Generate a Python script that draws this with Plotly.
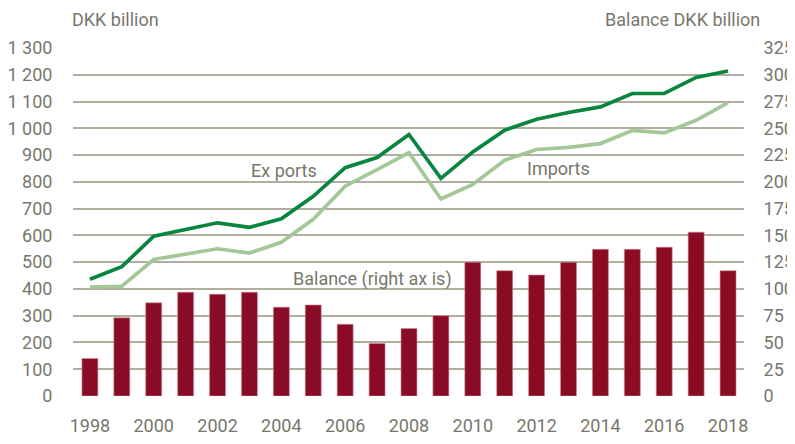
import plotly.graph_objects as go

years = list(range(1998, 2019))
exports = [436, 483, 597, 622, 647, 630, 662, 746, 853, 891, 977, 813,
           912, 993, 1034, 1059, 1080, 1130, 1130, 1190, 1214]
imports = [407, 410, 510, 529, 550, 534, 574, 660, 784, 846, 909, 736,
           790, 881, 921, 929, 943, 992, 983, 1030, 1096]
balance = [35, 73, 87, 97, 95, 97, 83, 85, 67, 49, 63, 75,
           125, 117, 113, 125, 137, 137, 139, 153, 117]

left_ticks = list(range(0, 1301, 100))
left_text = ["0", "100", "200", "300", "400", "500", "600", "700", "800", "900",
             "1 000", "1 100", "1 200", "1 300"]
right_ticks = list(range(0, 326, 25))
right_text = [str(v) for v in right_ticks]
x_ticks = list(range(1998, 2019, 2))

FONT = "Roboto, Liberation Sans, sans-serif"
TXT = "#77776b"
GRID = "#b1ae9f"
FS = 18

fig = go.Figure()
fig.add_trace(go.Bar(x=years, y=balance, yaxis="y2", width=0.5,
                     marker=dict(color="#8a0c24", line=dict(color="#c98a96", width=0.6)),
                     name="Balance"))
fig.add_trace(go.Scatter(x=years, y=imports, mode="lines",
                         line=dict(color="#a4c797", width=3.7), name="Imports"))
fig.add_trace(go.Scatter(x=years, y=exports, mode="lines",
                         line=dict(color="#08863f", width=3.7), name="Exports"))

fig.update_layout(
    width=787, height=436,
    margin=dict(l=65, r=51, t=40, b=48, autoexpand=False),
    paper_bgcolor="white", plot_bgcolor="white",
    showlegend=False,
    font=dict(family=FONT, size=FS, color=TXT),
    xaxis=dict(range=[1997.47, 2018.5], tickvals=x_ticks, showgrid=False,
               zeroline=False, showline=False, ticks="outside", ticklen=13,
               tickcolor="rgba(0,0,0,0)", tickfont=dict(size=FS, color=TXT),
               automargin=False),
    yaxis=dict(range=[0, 1300], tickvals=left_ticks, ticktext=left_text,
               showgrid=True, gridcolor=GRID, gridwidth=2, zeroline=False,
               showline=False, ticks="outside", ticklen=16, tickcolor="rgba(0,0,0,0)",
               tickfont=dict(size=FS, color=TXT), automargin=False),
    yaxis2=dict(range=[0, 325], tickvals=right_ticks, ticktext=right_text,
                overlaying="y", side="right", showgrid=False, zeroline=False,
                showline=False, ticks="outside", ticklen=15, tickcolor="rgba(0,0,0,0)",
                tickfont=dict(size=FS, color=TXT), automargin=False),
    annotations=[
        dict(text="DKK billion", xref="paper", yref="paper", x=-0.0045, y=1.0805,
             xanchor="left", yanchor="middle", showarrow=False,
             font=dict(size=FS, color=TXT)),
        dict(text="Balance DKK billion", xref="paper", yref="paper", x=1.0268, y=1.0805,
             xanchor="right", yanchor="middle", showarrow=False,
             font=dict(size=FS, color=TXT)),
        dict(text="Ex ports", x=2004.08, y=843, xref="x", yref="y", showarrow=False,
             font=dict(size=FS, color=TXT)),
        dict(text="Imports", x=2012.7, y=851, xref="x", yref="y", showarrow=False,
             font=dict(size=FS, color=TXT)),
        dict(text="Balance (right ax is)", x=2006.87, y=438, xref="x", yref="y",
             showarrow=False, font=dict(size=FS, color=TXT)),
    ],
)

fig.write_html("out.html")
